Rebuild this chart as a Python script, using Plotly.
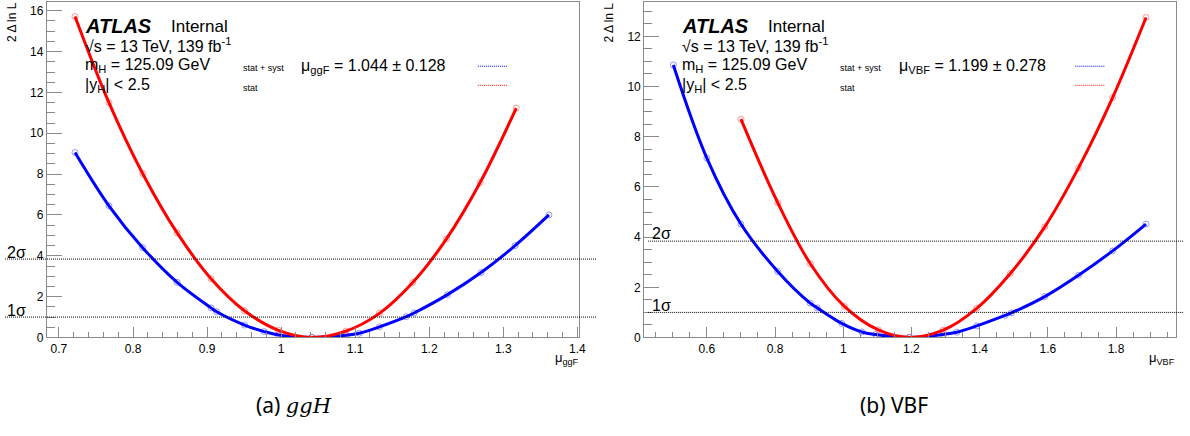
import plotly.graph_objects as go

W, H = 1190, 436

# ggF scan (left panel)
ggf_full_x = [0.7217, 0.7675, 0.813, 0.8596, 0.9054, 0.913, 0.9506, 0.977, 0.9964, 1.0416,
              1.0874, 1.1056, 1.1328, 1.169, 1.1795, 1.2247, 1.270, 1.316, 1.3616]
ggf_full_y = [9.06, 6.45, 4.40, 2.70, 1.45, 1.26, 0.61, 0.29, 0.12, 0.0,
              0.11, 0.21, 0.52, 1.02, 1.20, 2.10, 3.18, 4.50, 6.00]
ggf_stat_x = [0.7217, 0.7675, 0.813, 0.8596, 0.9054, 0.9506, 0.9964, 1.0416,
              1.0874, 1.1328, 1.1777, 1.2233, 1.2689, 1.3175]
ggf_stat_y = [15.72, 11.5, 8.03, 5.12, 2.88, 1.31, 0.35, 0.0,
              0.31, 1.18, 2.69, 4.83, 7.6, 11.23]

# VBF scan (right panel)
vbf_full_x = [0.5017, 0.60, 0.70, 0.808, 0.903, 0.9236, 0.9957, 1.0545, 1.095, 1.194,
              1.293, 1.333, 1.3915, 1.4746, 1.493, 1.591, 1.690, 1.79, 1.888]
vbf_full_y = [10.86, 7.15, 4.52, 2.63, 1.37, 1.18, 0.56, 0.22, 0.12, 0.0,
              0.12, 0.21, 0.46, 0.88, 0.98, 1.63, 2.48, 3.45, 4.52]
vbf_stat_x = [0.70, 0.808, 0.904, 1.0035, 1.103, 1.194, 1.293, 1.3915, 1.49, 1.591, 1.69, 1.79, 1.888]
vbf_stat_y = [8.7, 5.37, 2.93, 1.24, 0.30, 0.0, 0.29, 1.16, 2.55, 4.41, 6.76, 9.56, 12.75]

sigma_levels = [1.0, 3.84]
sigma_labels = ["1σ", "2σ"]
results = ["μ<sub>ggF</sub> = 1.044 ± 0.128", "μ<sub>VBF</sub> = 1.199 ± 0.278"]
xtitles = ["μ<sub>ggF</sub>", "μ<sub>VBF</sub>"]
captions = ["(a) <i><span style='font-family:DejaVu Serif'>ggH</span></i>", "(b) VBF"]


def px(x):
    return x / W


def py(y):
    return 1 - y / H


FONT = "Liberation Sans, Arial, sans-serif"
BLUE = "#0000ff"
RED = "#ff0000"
AXC = "#8a8a8a"

fig = go.Figure()

panels = [
    ("x", "y", ggf_full_x, ggf_full_y, ggf_stat_x, ggf_stat_y),
    ("x2", "y2", vbf_full_x, vbf_full_y, vbf_stat_x, vbf_stat_y),
]
for xa, ya, fx, fy, sx, sy in panels:
    for xs, ys, col in [(fx, fy, BLUE), (sx, sy, RED)]:
        fig.add_trace(go.Scatter(
            x=xs, y=ys, mode="markers", xaxis=xa, yaxis=ya,
            marker=dict(symbol="circle-open", size=6, color=col, opacity=0.4,
                        line=dict(width=1)),
            showlegend=False, hoverinfo="skip"))
        fig.add_trace(go.Scatter(
            x=xs, y=ys, mode="lines", xaxis=xa, yaxis=ya,
            line=dict(color=col, width=3, shape="spline", smoothing=1.0),
            showlegend=False))

ax_common = dict(showline=True, linecolor=AXC, linewidth=1, mirror=True,
                 ticks="inside", tickcolor=AXC, showgrid=False, zeroline=False,
                 tickfont=dict(family=FONT, size=12, color="black"))

fig.update_layout(
    width=W, height=H, autosize=False,
    margin=dict(l=0, r=0, t=0, b=0),
    paper_bgcolor="white", plot_bgcolor="white",
    xaxis=dict(domain=[47 / W, 582.7 / W], range=[0.6835, 1.4026], dtick=0.1, tick0=0.7,
               ticklen=10, minor=dict(dtick=0.02, tick0=0.7, ticklen=5, ticks="inside", tickcolor=AXC),
               anchor="y", **ax_common),
    yaxis=dict(domain=[py(343), py(2)], range=[0, 16.43], dtick=2, tick0=0,
               ticklen=15, minor=dict(dtick=0.5, ticklen=8, ticks="inside", tickcolor=AXC),
               anchor="x", **ax_common),
    xaxis2=dict(domain=[648 / W, 1183 / W], range=[0.4163, 1.976], dtick=0.2, tick0=0.6,
                ticklen=10, minor=dict(dtick=0.05, tick0=0.6, ticklen=5, ticks="inside", tickcolor=AXC),
                anchor="y2", **ax_common),
    yaxis2=dict(domain=[py(343), py(2)], range=[0, 13.37], dtick=2, tick0=0,
                ticklen=15, minor=dict(dtick=0.5, ticklen=8, ticks="inside", tickcolor=AXC),
                anchor="x2", **ax_common),
)

shapes = []
annotations = []


def text(x, y, t, size=16, xanchor="left", yanchor="middle", color="black", angle=0):
    annotations.append(dict(x=px(x), y=py(y), xref="paper", yref="paper", text=t,
                            showarrow=False, xanchor=xanchor, yanchor=yanchor, borderpad=0,
                            textangle=angle, font=dict(family=FONT, size=size, color=color)))


# sigma lines: x spans in pixels, y from the data axes
sig_spans = [(5, 600, "y"), (652, 1190, "y2")]
sig_label_pos = [[(6, 316), (6, 257)], [(655, 310), (655, 237)]]
for (x0, x1, yref), lpos in zip(sig_spans, sig_label_pos):
    for lvl, lab, (lx, ly) in zip(sigma_levels, sigma_labels, lpos):
        shapes.append(dict(type="line", xref="paper", yref=yref, x0=px(x0), x1=px(x1),
                           y0=lvl, y1=lvl, line=dict(color="black", width=1, dash="1px,1px")))
        text(lx, ly, lab, size=16)

# ATLAS labels and legends
for i, left in enumerate([84, 685]):
    text(left, 26, "<b><i>ATLAS</i></b>", size=20)
    text(left + 87, 27, "Internal", size=17)
    text(left, 46, "√s = 13 TeV, 139 fb<sup>-1</sup>", size=16)
    text(left, 67, "m<sub>H</sub> = 125.09 GeV", size=16)
    text(left, 87, "|y<sub>H</sub>| < 2.5", size=16)
    leg_x = left + 159
    text(leg_x, 69, "stat + syst", size=9)
    text(leg_x, 89, "stat", size=9)
    text(leg_x + 59, 68, results[i], size=16)
    lx0 = [480.7, 1081.7][i]
    for yy, col in [(67.3, BLUE), (86.7, RED)]:
        shapes.append(dict(type="line", xref="paper", yref="paper", x0=px(lx0), x1=px(lx0 + 30),
                           y0=py(yy), y1=py(yy), line=dict(color=col, width=1, dash="1px,1px")))

# axis titles
for i, (yx, xr) in enumerate([(12, 583), (613, 1183)]):
    text(yx, 1, "2 Δ ln L", size=12, xanchor="center", yanchor="top", angle=-90)
    text(xr, 364, xtitles[i], size=13, xanchor="right", yanchor="middle")

# captions
text(296, 412, captions[0], size=21, xanchor="center")
text(899, 412, captions[1], size=21, xanchor="center")
for a in annotations[-2:]:
    a["font"]["family"] = "Noto Sans, Open Sans, sans-serif"

fig.update_layout(shapes=shapes, annotations=annotations)

# drop the default page margin so the figure sits at the window's corner
fig.write_html("out.html", config={"responsive": False, "displayModeBar": False},
               post_script="document.body.style.margin='0';document.body.style.overflow='hidden';")
